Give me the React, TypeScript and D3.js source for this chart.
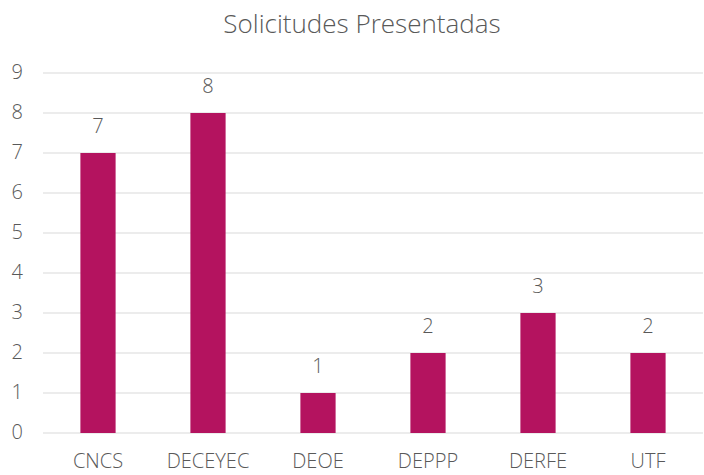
import React from "react";
import * as d3 from "d3";

const categories = ["CNCS", "DECEYEC", "DEOE", "DEPPP", "DERFE", "UTF"];
const values = [7, 8, 1, 2, 3, 2];
const yTicks = [0, 1, 2, 3, 4, 5, 6, 7, 8, 9];

const W = 704;
const H = 475;
const margin = { top: 73, right: 1, bottom: 42, left: 43 };
const font = "'Open Sans', 'Liberation Sans', sans-serif";

export default function App() {
  const x = d3
    .scaleBand()
    .domain(categories)
    .range([margin.left, W - margin.right])
    .paddingInner(0.68)
    .paddingOuter(0.34);
  const y = d3
    .scaleLinear()
    .domain([0, 9])
    .range([H - margin.bottom, margin.top]);

  return (
    <svg
      width={W}
      height={H}
      style={{ position: "absolute", left: 0, top: 0, background: "#fff" }}
      fontFamily={font}
    >
      <text x={362} y={33} textAnchor="middle" fontSize={26} fontWeight={300} fill="#595959">
        Solicitudes Presentadas
      </text>
      {yTicks.map((t) => (
        <g key={t}>
          <line x1={margin.left} x2={W - margin.right} y1={y(t)} y2={y(t)} stroke="#d9d9d9" strokeWidth={1} />
          <text x={23} y={y(t) + 6} textAnchor="end" fontSize={20} fontWeight={300} fill="#595959">
            {t}
          </text>
        </g>
      ))}
      {categories.map((c, i) => (
        <g key={c}>
          <rect
            x={x(c)}
            y={y(values[i])}
            width={x.bandwidth()}
            height={y(0) - y(values[i])}
            fill="#B4135F"
          />
          <text
            x={(x(c) as number) + x.bandwidth() / 2}
            y={y(values[i]) - 20}
            textAnchor="middle"
            fontSize={20}
            fontWeight={300}
            fill="#595959"
          >
            {values[i]}
          </text>
          <text
            x={(x(c) as number) + x.bandwidth() / 2}
            y={468}
            textAnchor="middle"
            fontSize={20}
            fontWeight={300}
            fill="#595959"
          >
            {c}
          </text>
        </g>
      ))}
    </svg>
  );
}
